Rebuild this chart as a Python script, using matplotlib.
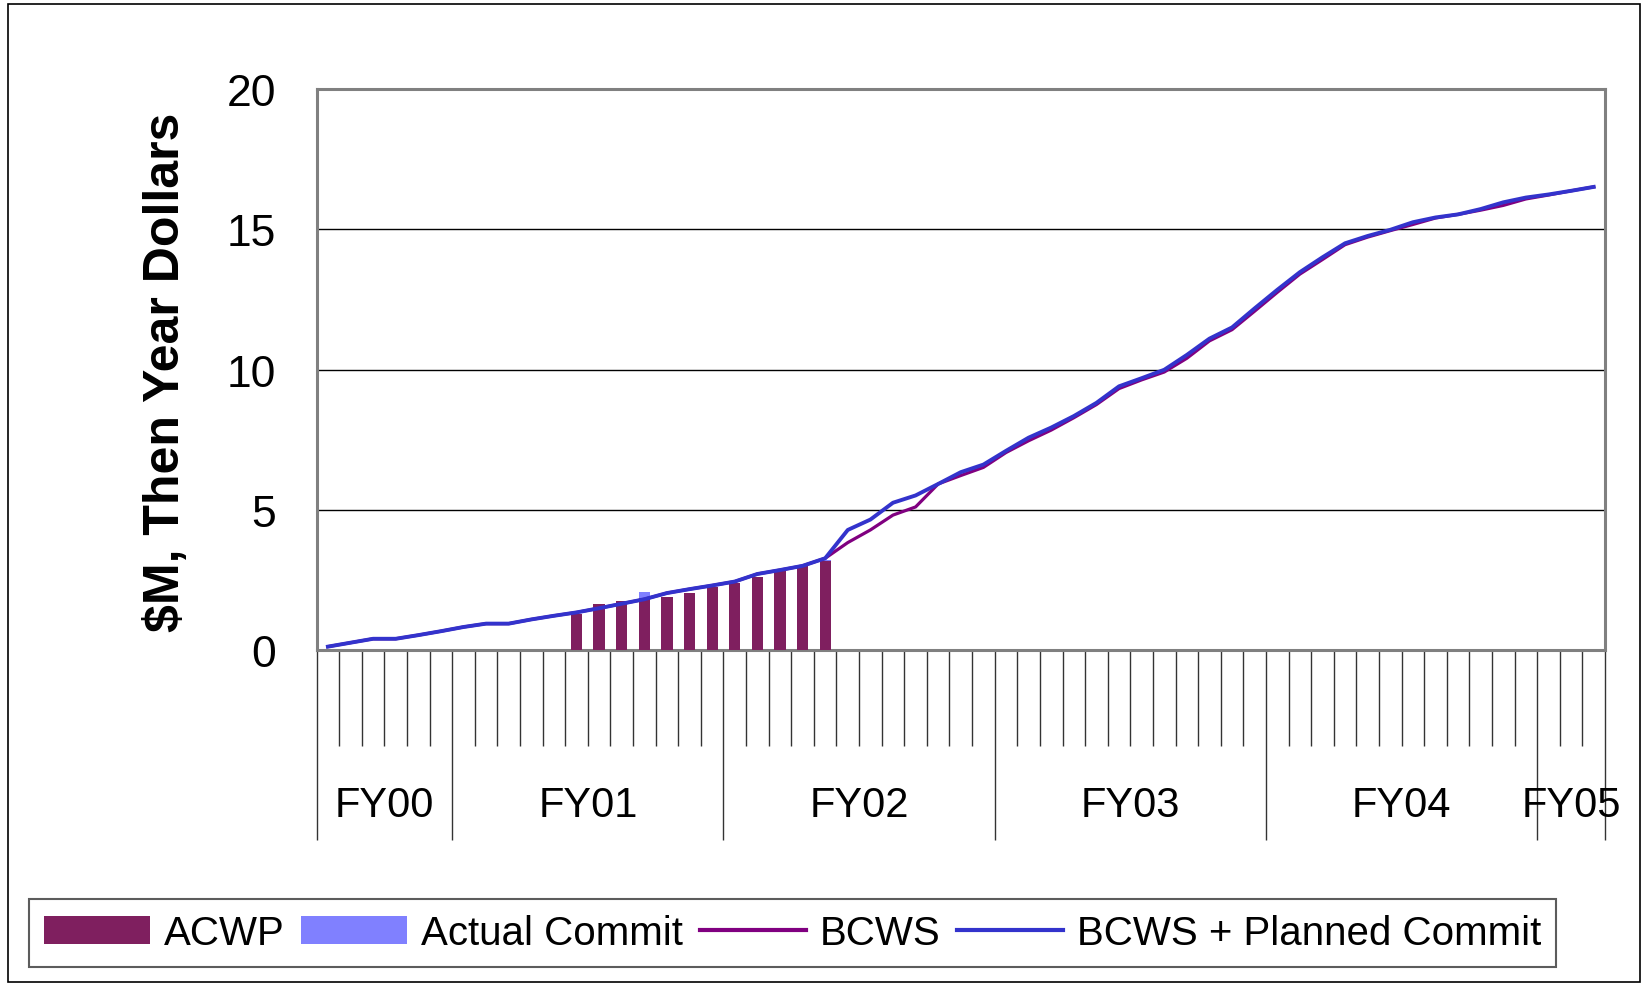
import matplotlib
matplotlib.use("Agg")
import matplotlib.pyplot as plt
from matplotlib.patches import Patch, Rectangle
from matplotlib.lines import Line2D
import numpy as np

plt.rcParams['font.family'] = ['Liberation Sans', 'DejaVu Sans']

#################
### data ###
#################

# months run from the middle of FY00 to the start of FY05
fy_labels = ['FY00', 'FY01', 'FY02', 'FY03', 'FY04', 'FY05']
fy_months = [6, 12, 12, 12, 12, 3]

# cumulative $M
bcws_planned = [0.12, 0.26, 0.40, 0.40, 0.53, 0.67, 0.82, 0.94, 0.94, 1.09,
                1.22, 1.34, 1.49, 1.65, 1.81, 2.03, 2.17, 2.30, 2.44, 2.71,
                2.85, 3.00, 3.27, 4.28, 4.65, 5.25, 5.51, 5.92, 6.34, 6.61,
                7.10, 7.57, 7.93, 8.34, 8.81, 9.40, 9.69, 9.99, 10.52, 11.10,
                11.50, 12.18, 12.84, 13.47, 14.00, 14.50, 14.76, 14.98, 15.25, 15.42,
                15.53, 15.72, 15.96, 16.13, 16.24, 16.37, 16.51]
bcws = [0.12, 0.26, 0.40, 0.40, 0.53, 0.67, 0.82, 0.94, 0.94, 1.09,
        1.22, 1.34, 1.49, 1.65, 1.81, 2.03, 2.17, 2.30, 2.44, 2.71,
        2.85, 3.00, 3.27, 3.83, 4.28, 4.81, 5.10, 5.92, 6.22, 6.51,
        7.04, 7.46, 7.84, 8.28, 8.75, 9.32, 9.63, 9.91, 10.40, 11.02,
        11.42, 12.08, 12.75, 13.40, 13.92, 14.45, 14.72, 14.95, 15.17, 15.40,
        15.53, 15.68, 15.85, 16.08, 16.22, 16.37, 16.51]

# bars only for the months that have actuals (month index 11 .. 22)
bar_months = list(range(11, 23))
acwp = [1.28, 1.63, 1.74, 1.87, 1.88, 2.03, 2.25, 2.39, 2.60, 2.81, 3.00, 3.16]
actual_commit = [1.28, 1.63, 1.74, 2.06, 1.88, 2.03, 2.25, 2.39, 2.60, 2.81, 3.00, 3.22]

y_ticks = [0, 5, 10, 15, 20]

# colours
c_acwp = '#7F1F5F'
c_commit = '#8080FF'
c_bcws = '#800080'
c_planned = '#3333CC'

###########################
### plot ###
###########################

W, H = 1644, 987
fig = plt.figure(figsize=(W / 100, H / 100), dpi=100)
ax = fig.add_axes([316.6 / W, (H - 651) / H, 1288.4 / W, 561 / H])

n_months = sum(fy_months)
x = np.arange(n_months)

ax.bar(bar_months, actual_commit, width=0.5, color=c_commit, zorder=2)
ax.bar(bar_months, acwp, width=0.5, color=c_acwp, zorder=3)
ax.plot(x, bcws, color=c_bcws, lw=2.3, zorder=4)
ax.plot(x, bcws_planned, color=c_planned, lw=2.8, zorder=5)

ax.set_xlim(-0.5, n_months - 0.5)
ax.set_ylim(0, 20)

# y axis
ax.set_yticks(y_ticks)
ax.set_yticklabels([str(v) for v in y_ticks], fontsize=32)
ax.tick_params(axis='y', length=0, pad=29)
for v in y_ticks[1:-1]:
    ax.axhline(v, color='black', lw=1, zorder=1)

# x axis: long ticks at fiscal years, short ticks at months
fy_edges = np.concatenate([[0], np.cumsum(fy_months)]) - 0.5
ax.set_xticks(fy_edges)
ax.set_xticks(np.arange(n_months + 1) - 0.5, minor=True)
ax.set_xticklabels([])
ax.tick_params(axis='x', which='major', length=137, width=1, color='#333333')
ax.tick_params(axis='x', which='minor', length=69, width=1, color='#333333')

for i, lab in enumerate(fy_labels):
    cx = (fy_edges[i] + fy_edges[i + 1]) / 2
    ax.text(cx, -155 / 561, lab, transform=ax.get_xaxis_transform(),
            ha='center', va='center', fontsize=30)

for s in ax.spines.values():
    s.set_color('#808080')
    s.set_linewidth(2.2)

fig.text(166 / W, 1 - 372 / H, '$M, Then Year Dollars', rotation=90,
         ha='center', va='center', fontsize=36, fontweight='bold')

# legend
handles = [Patch(facecolor=c_acwp, edgecolor='none'),
           Patch(facecolor=c_commit, edgecolor='none'),
           Line2D([0], [0], color=c_bcws, lw=3),
           Line2D([0], [0], color=c_planned, lw=3)]
labels = ['ACWP', 'Actual Commit', 'BCWS', 'BCWS + Planned Commit']
leg = fig.legend(handles, labels, loc='center', ncol=4,
                 bbox_to_anchor=(792.5 / W, 1 - 934 / H),
                 fontsize=29, frameon=True, fancybox=False,
                 handlelength=2.63, handleheight=0.72, handletextpad=0.34,
                 columnspacing=0.42, borderaxespad=0, borderpad=0.38)
leg.get_frame().set_edgecolor('#333333')
leg.get_frame().set_linewidth(1.5)

# outer border
fig.patches.append(Rectangle((8 / W, 4 / H), 1632 / W, 978 / H,
                             transform=fig.transFigure, fill=False,
                             edgecolor='black', lw=1.2))

fig.savefig('out.png', dpi=100)
